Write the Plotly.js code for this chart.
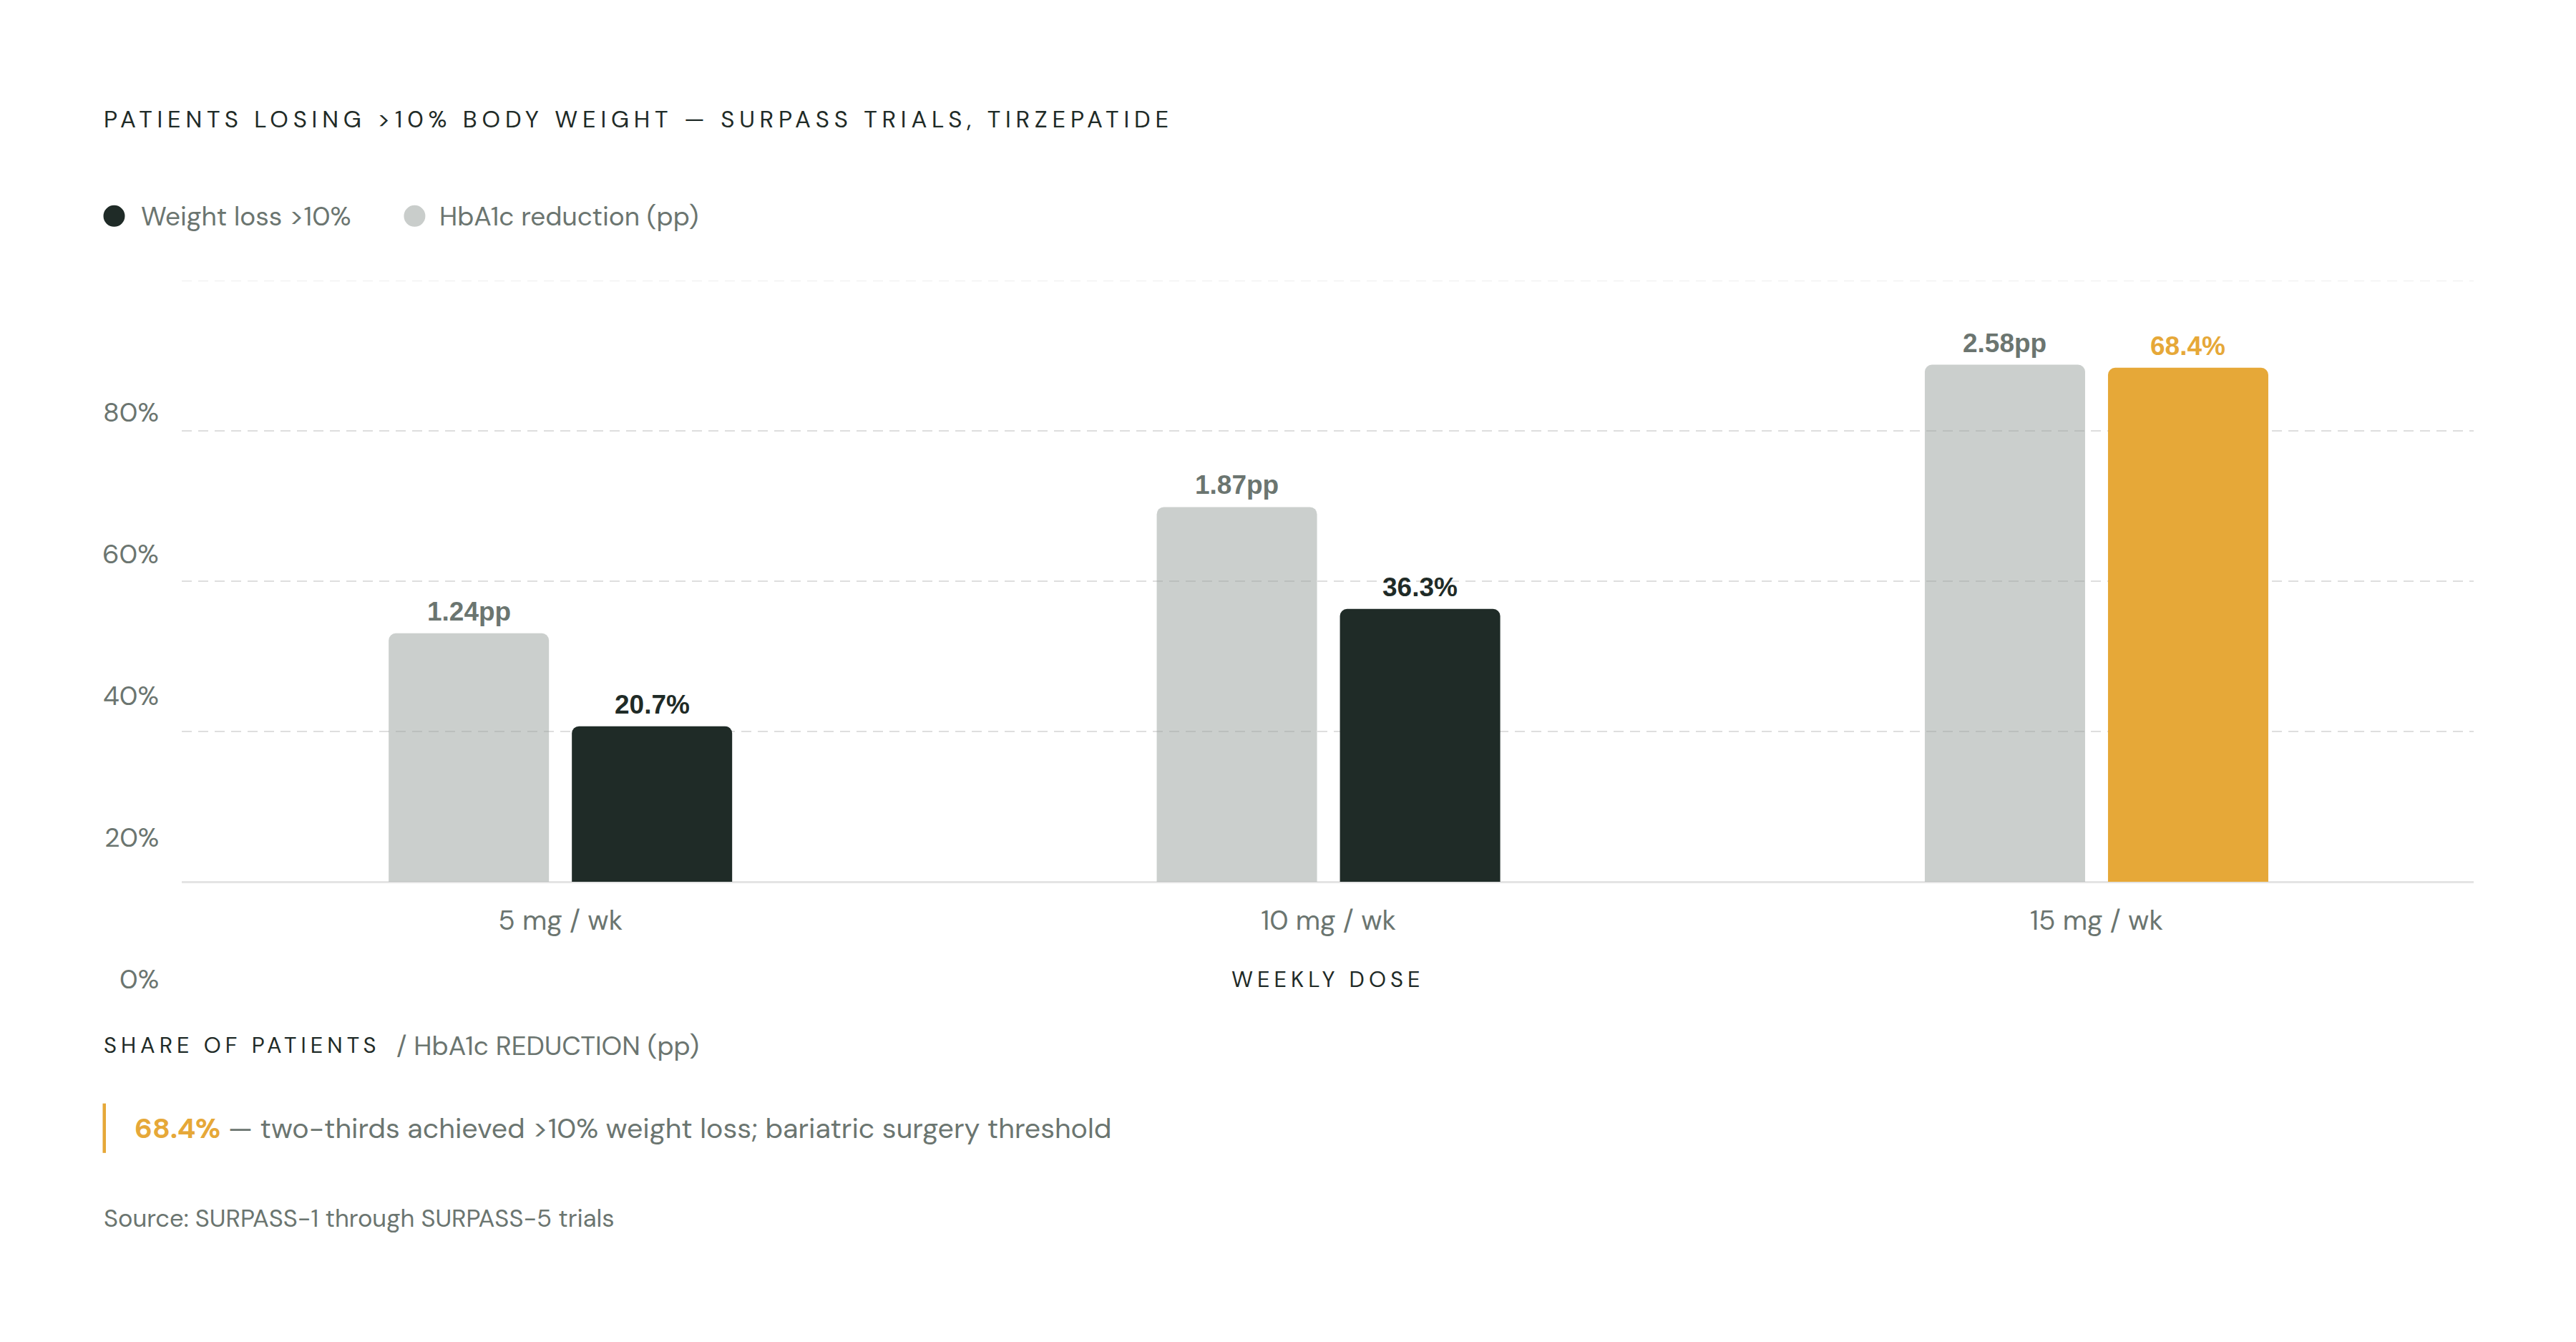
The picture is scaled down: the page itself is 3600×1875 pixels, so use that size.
<!DOCTYPE html>
<html>
<head>
<meta charset="utf-8">
<script src="https://cdn.plot.ly/plotly-3.0.1.min.js"></script>
<style>
  html, body { margin: 0; padding: 0; background: #ffffff; }
  #chart { width: 3600px; height: 1875px; }
  #chart .annotation[data-index="0"] text { letter-spacing: 6.8px; }
  #chart .annotation[data-index="1"] text,
  #chart .annotation[data-index="2"] text { letter-spacing: 6px; }
</style>
</head>
<body>
<div id="chart"></div>
<script>
var doses = ['5 mg / wk', '10 mg / wk', '15 mg / wk'];
var weightLoss = [20.7, 36.3, 68.4];
var hba1cDrop = [1.24, 1.87, 2.58];
var weightColors = ['#1f2b27', '#1f2b27', '#e6a838'];
var yTickLabels = ['80%', '60%', '40%', '20%', '0%'];

var dark = '#1f2b27';
var muted = '#6b7570';
var orange = '#e6a838';
var font = 'DM Sans, Inter, sans-serif';
var labelFont = 'Liberation Sans, Arial';

var bargap = 0.523;
var slot = (1 - bargap) / 2;

var hba1cTrace = {
    type: 'bar',
    x: doses,
    y: hba1cDrop,
    yaxis: 'y2',
    offsetgroup: 'a',
    marker: { color: 'rgba(151,159,155,0.5)' },
    hoverinfo: 'skip'
};

var weightTrace = {
    type: 'bar',
    x: doses,
    y: weightLoss,
    offsetgroup: 'b',
    marker: { color: weightColors },
    hoverinfo: 'skip'
};

var annotations = [
    { text: 'PATIENTS LOSING >10% BODY WEIGHT — SURPASS TRIALS, TIRZEPATIDE', x: -0.0345, y: 1.2689,
      xanchor: 'left', align: 'left', font: { size: 33, color: dark } },
    { text: 'WEEKLY DOSE', x: 0.5, y: -0.1626, xanchor: 'center', font: { size: 31, color: dark } },
    { text: 'SHARE OF PATIENTS', x: -0.0345, y: -0.2722, xanchor: 'left', align: 'left', font: { size: 31, color: dark } },
    { text: '/ HbA1c REDUCTION (pp)', x: 0.0929, y: -0.2722, xanchor: 'left', align: 'left', font: { size: 37, color: muted } },
    { text: 'Weight loss >10%', x: -0.0184, y: 1.1074, xanchor: 'left', align: 'left', font: { size: 37, color: muted } },
    { text: 'HbA1c reduction (pp)', x: 0.1119, y: 1.1074, xanchor: 'left', align: 'left', font: { size: 37, color: muted } },
    { text: '<b style="color:' + orange + '">68.4%</b> — two-thirds achieved >10% weight loss; bariatric surgery threshold',
      x: -0.0211, y: -0.4098, xanchor: 'left', align: 'left', font: { size: 39.4, color: muted } },
    { text: 'Source: SURPASS-1 through SURPASS-5 trials', x: -0.0345, y: -0.5604, xanchor: 'left', align: 'left',
      font: { size: 34.5, color: muted } }
];

for (var i = 0; i < yTickLabels.length; i++) {
    annotations.push({
        text: yTickLabels[i], x: -0.0093, y: 0.7799 - i * 0.2356,
        xanchor: 'right', align: 'right', font: { size: 37.5, color: muted }
    });
}

annotations.forEach(function(a) {
    a.xref = 'paper';
    a.yref = 'paper';
    a.showarrow = false;
    a.yanchor = 'middle';
});

// value labels above each bar, placed on the data axes
for (var j = 0; j < doses.length; j++) {
    annotations.push({
        xref: 'x', yref: 'y2', x: j - slot / 2, y: hba1cDrop[j],
        text: '<b>' + hba1cDrop[j].toFixed(2) + 'pp</b>',
        showarrow: false, yanchor: 'bottom', yshift: 8,
        font: { family: labelFont, size: 37, color: muted }
    });
    annotations.push({
        xref: 'x', yref: 'y', x: j + slot / 2, y: weightLoss[j],
        text: '<b>' + weightLoss[j].toFixed(1) + '%</b>',
        showarrow: false, yanchor: 'bottom', yshift: 8,
        font: { family: labelFont, size: 37, color: weightColors[j] }
    });
}

var shapes = [
    // faint top guide
    { type: 'line', xref: 'paper', yref: 'y', x0: 0, x1: 1, y0: 80, y1: 80,
      line: { color: '#eeeeee', width: 2, dash: '14px,9px' }, layer: 'below' },
    // legend dots
    { type: 'circle', xref: 'paper', yref: 'paper', xsizemode: 'pixel', ysizemode: 'pixel',
      xanchor: -0.0295, yanchor: 1.1074, x0: -15, x1: 15, y0: -15, y1: 15,
      fillcolor: dark, line: { width: 0 } },
    { type: 'circle', xref: 'paper', yref: 'paper', xsizemode: 'pixel', ysizemode: 'pixel',
      xanchor: 0.1016, yanchor: 1.1074, x0: -15, x1: 15, y0: -15, y1: 15,
      fillcolor: '#c9cdcb', line: { width: 0 } },
    // key takeaway rule
    { type: 'rect', xref: 'paper', yref: 'paper', x0: -0.0345, x1: -0.0331, y0: -0.3687, y1: -0.451,
      fillcolor: orange, line: { width: 0 } }
];

var layout = {
    width: 3600,
    height: 1875,
    paper_bgcolor: '#ffffff',
    plot_bgcolor: '#ffffff',
    font: { family: font, color: muted },
    margin: { l: 254, r: 143, t: 392, b: 643 },
    showlegend: false,
    barmode: 'group',
    bargap: bargap,
    bargroupgap: 0.125,
    barcornerradius: 10,
    xaxis: {
        type: 'category',
        range: [-0.493, 2.491],
        showline: false,
        showgrid: false,
        ticks: '',
        ticklabelstandoff: 27,
        tickfont: { family: font, size: 38.5, color: muted },
        fixedrange: true
    },
    yaxis: {
        range: [0, 80],
        tickvals: [20, 40, 60],
        showticklabels: false,
        showgrid: true,
        gridcolor: '#dedede',
        gridwidth: 2,
        griddash: '14px,9px',
        zeroline: true,
        zerolinecolor: '#e4e4e4',
        zerolinewidth: 3,
        showline: false,
        fixedrange: true
    },
    yaxis2: {
        overlaying: 'y',
        range: [0, 3],
        visible: false,
        showgrid: false,
        zeroline: false,
        fixedrange: true
    },
    annotations: annotations,
    shapes: shapes
};

Plotly.newPlot('chart', [hba1cTrace, weightTrace], layout, { displayModeBar: false, staticPlot: true });
</script>
</body>
</html>
